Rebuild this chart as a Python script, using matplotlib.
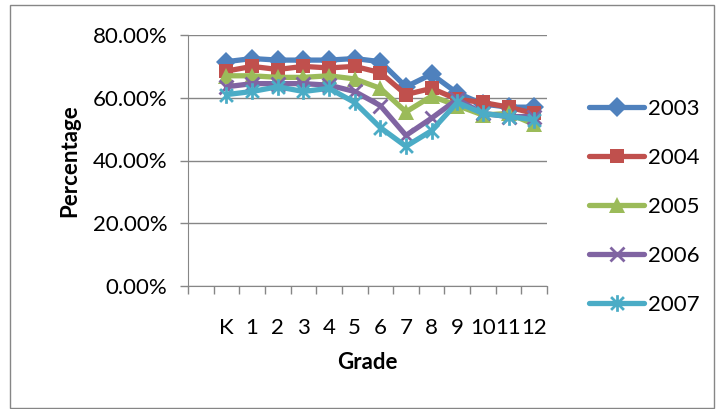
import matplotlib
matplotlib.use("Agg")
import matplotlib.pyplot as plt
from matplotlib.path import Path
from matplotlib.ticker import FixedLocator, FuncFormatter

plt.rcParams['font.family'] = ['Lato', 'DejaVu Sans']

# first category is blank, as in the original sheet
grades = ["", "K", "1", "2", "3", "4", "5", "6", "7", "8", "9", "10", "11", "12"]

y2003 = [None, 71.5, 72.5, 72.0, 72.0, 72.0, 72.5, 71.5, 63.5, 67.5, 61.5, 58.0, 57.0, 57.0]
y2004 = [None, 68.5, 70.0, 69.0, 70.0, 69.5, 70.0, 68.0, 61.0, 63.0, 59.5, 58.5, 57.0, 55.0]
y2005 = [None, 67.0, 67.0, 66.5, 66.5, 67.0, 66.0, 63.0, 55.5, 60.5, 57.5, 54.5, 55.0, 51.5]
y2006 = [None, 63.5, 64.5, 64.5, 64.5, 64.0, 62.0, 57.5, 48.0, 53.5, 59.5, 55.0, 54.0, 54.0]
y2007 = [None, 61.0, 62.0, 63.5, 62.0, 63.0, 58.5, 50.5, 44.5, 49.5, 58.5, 55.0, 54.0, 53.0]

years = ["2003", "2004", "2005", "2006", "2007"]
series = [y2003, y2004, y2005, y2006, y2007]

# excel style star: an x with a vertical bar through it
star = Path([(-1, -1), (1, 1), (-1, 1), (1, -1), (0, -1.3), (0, 1.3)],
            [Path.MOVETO, Path.LINETO, Path.MOVETO, Path.LINETO, Path.MOVETO, Path.LINETO])

styles = [
    dict(color="#4F81BD", marker="D", ms=10, mew=0),
    dict(color="#C0504D", marker="s", ms=10.5, mew=0),
    dict(color="#9BBB59", marker="^", ms=12, mew=0),
    dict(color="#8064A2", marker="x", ms=10, mew=2),
    dict(color="#4BACC6", marker=star, ms=12, mew=2),
]

fig = plt.figure(figsize=(7.16, 4.09), dpi=100)
ax = fig.add_axes([188 / 716, 1 - 286 / 409, (547 - 188) / 716, (286 - 35) / 409])

x = list(range(len(grades)))
for name, vals, st in zip(years, series, styles):
    xs = [i for i, v in zip(x, vals) if v is not None]
    ys = [v / 100 for v in vals if v is not None]
    ax.plot(xs, ys, lw=3.8, solid_capstyle="round", label=name, **st)

ax.set_xlim(-0.5, len(grades) - 0.5)
ax.set_ylim(0, 0.8)
ax.set_yticks([0, 0.2, 0.4, 0.6, 0.8])
ax.yaxis.set_major_formatter(FuncFormatter(lambda v, p: f"{v * 100:.2f}%"))
ax.yaxis.grid(True, color="#868686", lw=1)
ax.set_axisbelow(True)

ax.set_xticks(x)
ax.set_xticklabels(grades)
ax.xaxis.set_minor_locator(FixedLocator([i - 0.5 for i in range(len(grades) + 1)]))
ax.tick_params(axis="x", which="major", length=0, pad=23, labelsize=16)
ax.tick_params(axis="x", which="minor", length=6, width=1, color="#868686")
ax.tick_params(axis="y", length=6, width=1, color="#868686", pad=9, labelsize=16)

for s in ["top", "right"]:
    ax.spines[s].set_visible(False)
for s in ["left", "bottom"]:
    ax.spines[s].set_color("#868686")

ax.set_xlabel("Grade", fontsize=16, fontweight="bold", labelpad=10)
ax.set_ylabel("Percentage", fontsize=16, fontweight="bold", labelpad=9)

ax.legend(loc="center left", bbox_to_anchor=(580 / 716, 1 - 207 / 409), bbox_transform=fig.transFigure,
          frameon=False, fontsize=16, handlelength=2.5, labelspacing=1.3,
          handletextpad=0.15, borderaxespad=0)

# chart border
fig.patches.append(plt.Rectangle((10 / 716, 1 / 409), 704 / 716, 403 / 409,
                                 transform=fig.transFigure, fill=False,
                                 edgecolor="#868686", lw=1))

fig.savefig("out.png", dpi=100)
